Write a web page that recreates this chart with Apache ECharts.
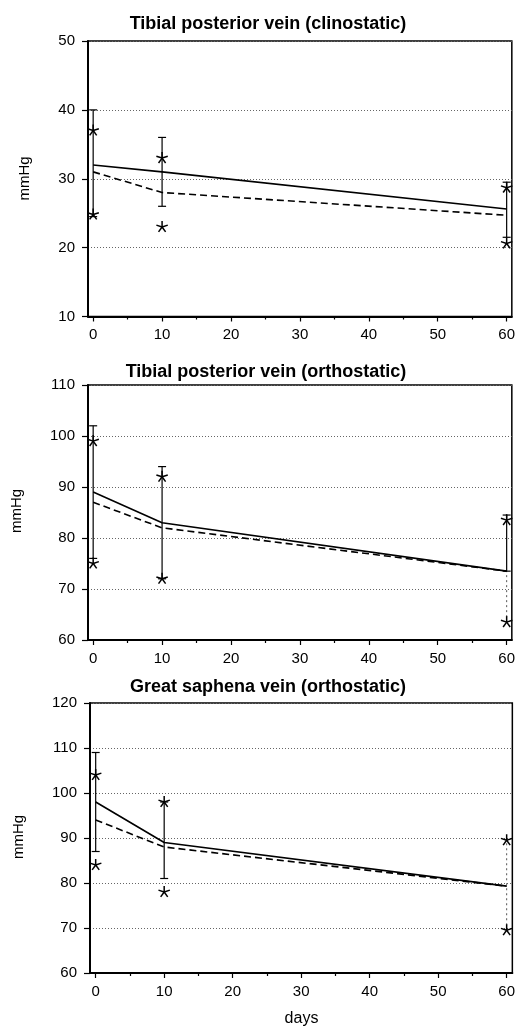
<!DOCTYPE html>
<html>
<head>
<meta charset="utf-8">
<script src="https://cdn.jsdelivr.net/npm/echarts@6/dist/echarts.min.js"></script>
<style>
html,body{margin:0;padding:0;background:#fff;}
#chart{width:518px;height:1026px;}
</style>
</head>
<body>
<div id="chart"></div>
<script>
// ---- data ----
const days = [0, 10, 60];
const xTickValues = [0, 10, 20, 30, 40, 50, 60];
const xMinorTickValues = [5, 15, 25, 35, 45, 55];
const titles = [
  'Tibial posterior vein (clinostatic)',
  'Tibial posterior vein (orthostatic)',
  'Great saphena vein (orthostatic)'
];
const yUnit = 'mmHg';
const xName = 'days';
const yRange1 = [10, 50];
const yRange2 = [60, 110];
const yRange3 = [60, 120];

const p1Solid = [32, 31, 25.6];
const p1Dashed = [31, 28, 24.7];
const p1Bars = [[0, 24.5, 40], [10, 26, 36], [60, 21.5, 29.5]];
const p1Faint = [];
const p1Stars = [[0, 37], [0, 24.8], [10, 33], [10, 23], [60, 28.7], [60, 20.6]];

const p2Solid = [89, 83, 73.5];
const p2Dashed = [87, 82, 73.5];
const p2Bars = [[0, 76, 102], [10, 72, 94], [60, 73.5, 84.5]];
const p2Faint = [[60, 63.5, 73.5]];
const p2Stars = [[0, 99], [0, 75], [10, 92], [10, 72], [60, 83.5], [60, 63.5]];

const p3Solid = [98, 89, 79.3];
const p3Dashed = [94, 88, 79.3];
const p3Bars = [[0, 87, 109], [10, 81, 98]];
const p3Faint = [[60, 69.5, 89.5]];
const p3Stars = [[0, 104], [0, 84], [10, 98], [10, 78], [60, 89.5], [60, 69.5]];

// ---- layout / style ----
const FONT = 'Liberation Sans, Arial, sans-serif';
const grids = [
  {left: 88, right: 6, top: 41, height: 275.5},
  {left: 88, right: 6, top: 385, height: 255},
  {left: 90, right: 5, top: 703, height: 270}
];
const titlePos = [[268, 23.7], [266, 372], [268, 686.7]];
const unitPos = [[25, 178.5], [17, 511], [18.5, 837]];
const panels = [
  {y: yRange1, solid: p1Solid, dashed: p1Dashed, bars: p1Bars, faint: p1Faint, stars: p1Stars, xmin: -0.75, xmax: 60.75},
  {y: yRange2, solid: p2Solid, dashed: p2Dashed, bars: p2Bars, faint: p2Faint, stars: p2Stars, xmin: -0.75, xmax: 60.75},
  {y: yRange3, solid: p3Solid, dashed: p3Dashed, bars: p3Bars, faint: p3Faint, stars: p3Stars, xmin: -0.83, xmax: 60.83}
];

function barItem(params, api) {
  const x = api.value(0);
  const lo = api.coord([x, api.value(1)]);
  const hi = api.coord([x, api.value(2)]);
  const w = 4;
  const st = {stroke: '#000', lineWidth: 1.2};
  return {type: 'group', children: [
    {type: 'line', shape: {x1: lo[0], y1: lo[1], x2: hi[0], y2: hi[1]}, style: st},
    {type: 'line', shape: {x1: hi[0] - w, y1: hi[1], x2: hi[0] + w, y2: hi[1]}, style: st},
    {type: 'line', shape: {x1: lo[0] - w, y1: lo[1], x2: lo[0] + w, y2: lo[1]}, style: st}
  ]};
}
function faintItem(params, api) {
  const x = api.value(0);
  const lo = api.coord([x, api.value(1)]);
  const hi = api.coord([x, api.value(2)]);
  return {type: 'line', shape: {x1: lo[0], y1: lo[1], x2: hi[0], y2: hi[1]},
    style: {stroke: '#555', lineWidth: 1, lineDash: [2, 3]}};
}
function starItem(params, api) {
  const c = api.coord([api.value(0), api.value(1)]);
  const r = 6;
  const children = [];
  for (let k = 0; k < 5; k++) {
    const a = -Math.PI / 2 + k * 2 * Math.PI / 5;
    children.push({type: 'line', shape: {x1: c[0], y1: c[1], x2: c[0] + r * Math.cos(a), y2: c[1] + r * Math.sin(a)},
      style: {stroke: '#000', lineWidth: 1.5}});
  }
  return {type: 'group', children};
}

const xAxes = [], yAxes = [], series = [], graphics = [];
panels.forEach((p, i) => {
  xAxes.push({
    type: 'value', gridIndex: i, min: p.xmin, max: p.xmax, position: 'bottom',
    axisLine: {show: true, onZero: false, lineStyle: {color: '#000', width: 2}},
    axisTick: {show: true, customValues: xTickValues, length: 5, lineStyle: {color: '#000', width: 1.2}},
    axisLabel: {show: true, customValues: xTickValues, margin: 11, color: '#000', fontSize: 15, fontFamily: FONT},
    splitLine: {show: false}
  });
  xAxes.push({
    type: 'value', gridIndex: i, min: p.xmin, max: p.xmax, position: 'bottom',
    axisLine: {show: false},
    axisTick: {show: true, customValues: xMinorTickValues, length: 3, lineStyle: {color: '#000', width: 1.2}},
    axisLabel: {show: false},
    splitLine: {show: false}
  });
  yAxes.push({
    type: 'value', gridIndex: i, min: p.y[0], max: p.y[1], interval: 10,
    axisLine: {show: true, onZero: false, lineStyle: {color: '#000', width: 2}},
    axisTick: {show: true, length: 6, lineStyle: {color: '#000', width: 1.2}},
    axisLabel: {margin: 13, color: '#000', fontSize: 15, fontFamily: FONT},
    splitLine: {show: true, lineStyle: {color: '#666', width: 1, type: [1, 2]}}
  });
  const xi = i * 2, yi = i;
  series.push({type: 'line', xAxisIndex: xi, yAxisIndex: yi, symbol: 'none', silent: true,
    data: days.map((d, k) => [d, p.solid[k]]), lineStyle: {color: '#000', width: 1.6, type: 'solid'}, z: 3});
  series.push({type: 'line', xAxisIndex: xi, yAxisIndex: yi, symbol: 'none', silent: true,
    data: days.map((d, k) => [d, p.dashed[k]]), lineStyle: {color: '#000', width: 1.6, type: [7, 4]}, z: 3});
  series.push({type: 'custom', xAxisIndex: xi, yAxisIndex: yi, renderItem: barItem, data: p.bars,
    encode: {x: 0, y: [1, 2]}, silent: true, z: 4});
  if (p.faint.length) {
    series.push({type: 'custom', xAxisIndex: xi, yAxisIndex: yi, renderItem: faintItem, data: p.faint,
      encode: {x: 0, y: [1, 2]}, silent: true, z: 2});
  }
  series.push({type: 'custom', xAxisIndex: xi, yAxisIndex: yi, renderItem: starItem, data: p.stars,
    encode: {x: 0, y: 1}, silent: true, z: 5});

  graphics.push({type: 'text', x: titlePos[i][0], y: titlePos[i][1],
    style: {text: titles[i], font: 'bold 18px ' + FONT, fill: '#000', textAlign: 'center', textVerticalAlign: 'middle'}});
  graphics.push({type: 'text', x: unitPos[i][0], y: unitPos[i][1], rotation: Math.PI / 2,
    style: {text: yUnit, font: '15px ' + FONT, fill: '#000', textAlign: 'center', textVerticalAlign: 'middle'}});
});
graphics.push({type: 'text', x: 301.5, y: 1019,
  style: {text: xName, font: '16px ' + FONT, fill: '#000', textAlign: 'center', textVerticalAlign: 'middle'}});

const chart = echarts.init(document.getElementById('chart'), null, {renderer: 'canvas'});
chart.setOption({
  animation: false,
  backgroundColor: '#fff',
  grid: grids.map(g => Object.assign({show: true, borderColor: '#000', borderWidth: 1.5, backgroundColor: 'transparent'}, g)),
  xAxis: xAxes,
  yAxis: yAxes,
  series: series,
  graphic: graphics
});
</script>
</body>
</html>
